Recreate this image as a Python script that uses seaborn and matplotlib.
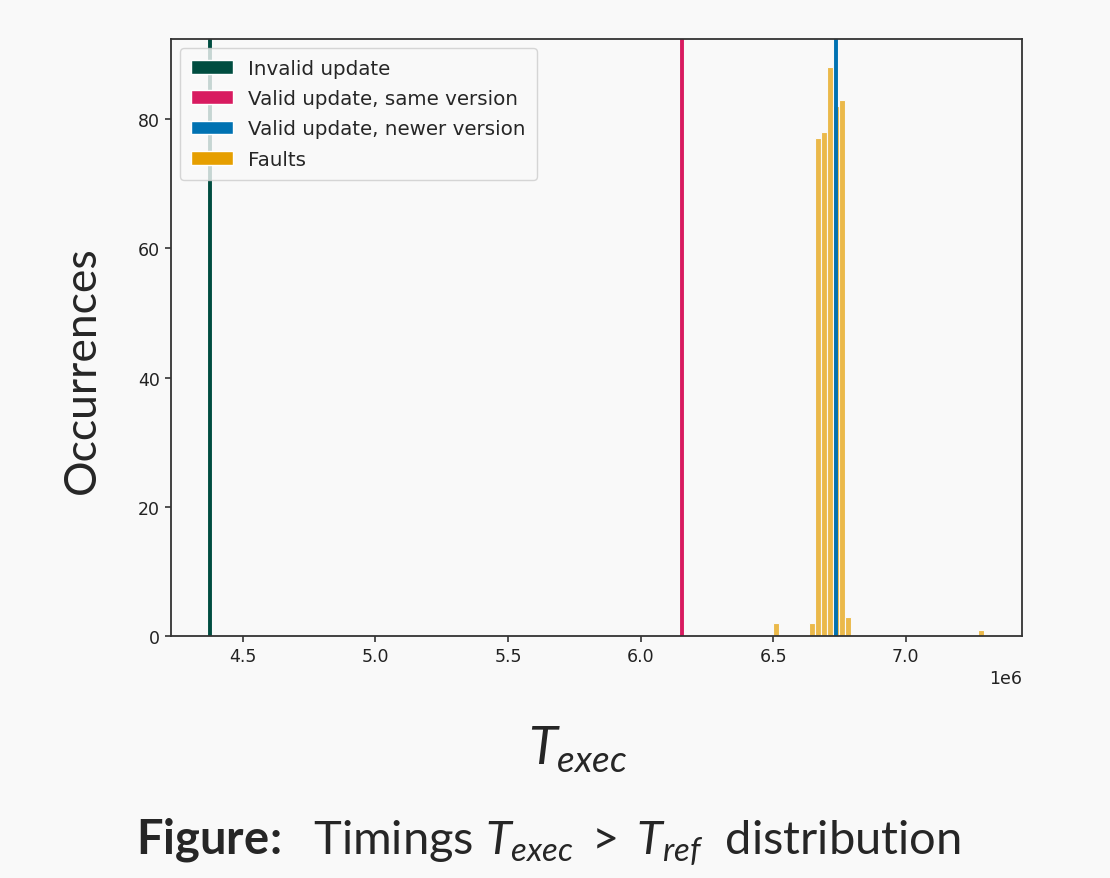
import numpy as np
import pandas as pd
import matplotlib
matplotlib.use("Agg")
import matplotlib.pyplot as plt
from matplotlib.patches import Patch
import seaborn as sns

# ---- data ----
fault_bin_centers = [6.5113e6, 6.6474e6, 6.6701e6, 6.6928e6, 6.7155e6, 6.7381e6, 6.7608e6, 6.7835e6, 7.2824e6]
fault_counts = [2, 2, 77, 78, 88, 82, 83, 3, 1]
fault_range = (6.500e6, 7.2937e6)
n_bins = 35

line_labels = ["Invalid update", "Valid update, same version", "Valid update, newer version"]
line_positions = [4.375e6, 6.155e6, 6.736e6]
line_colors = ["#004D40", "#D81B60", "#0072B2"]
fault_label = "Faults"
fault_color = "#E69F00"

bg = "#f9f9f9"

sns.set_style("ticks", {"axes.facecolor": bg, "figure.facecolor": bg,
                        "axes.edgecolor": "#333333"})
plt.rcParams["font.family"] = ["DejaVu Sans"]
plt.rcParams["mathtext.fontset"] = "custom"
plt.rcParams["mathtext.it"] = "Lato:italic"
plt.rcParams["mathtext.rm"] = "Lato"
plt.rcParams["mathtext.bf"] = "Lato:bold"

fig = plt.figure(figsize=(11.1, 8.79), dpi=100)
fig.patch.set_facecolor(bg)
ax = fig.add_axes([0.154, 0.2753, 0.767, 0.6792])
ax.set_facecolor(bg)

df = pd.DataFrame({"t": fault_bin_centers, "n": fault_counts})
sns.histplot(data=df, x="t", weights="n", bins=n_bins, binrange=fault_range,
             color=fault_color, alpha=0.7, edgecolor=bg, linewidth=0.8, ax=ax)

for pos, col in zip(line_positions, line_colors):
    ax.axvline(pos, color=col, linewidth=2.8)

handles = [Patch(facecolor=c, label=l) for c, l in zip(line_colors, line_labels)]
handles.append(Patch(facecolor=fault_color, label=fault_label))
ax.legend(handles=handles, loc="upper left", fontsize=14.3, handlelength=2.1,
          frameon=True, borderaxespad=0.45, borderpad=0.55, labelspacing=0.57)

for s in ax.spines.values():
    s.set_linewidth(1.3)
    s.set_color("#333333")
ax.tick_params(labelsize=12.5, colors="#222222", width=1.1, length=4, pad=4)
ax.xaxis.get_offset_text().set_fontsize(12.5)

ax.set_ylabel("Occurrences", fontsize=32, family="Lato")
ax.yaxis.set_label_coords(-0.080, 0.447)
ax.set_xlabel(r"$T_{exec}$", fontsize=38)
ax.xaxis.set_label_coords(0.478, -0.145)

fig.text(0.494, 0.027, r"$\mathbf{Figure\!:}$  Timings $T_{exec}\;>\;T_{ref}$  distribution",
         ha="center", va="baseline", fontsize=33.8, family="Lato")

fig.savefig("out.png", dpi=100, facecolor=bg)
